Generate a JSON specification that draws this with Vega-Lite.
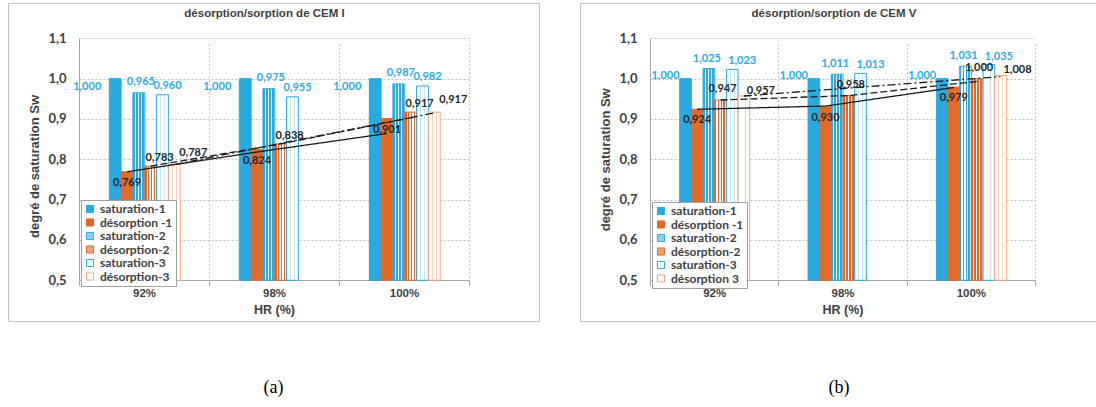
{
  "$schema": "https://vega.github.io/schema/vega-lite/v6.json",
  "padding": {"left": 7, "top": 2, "right": 0, "bottom": 0},
  "autosize": {"type": "pad"},
  "background": "white",
  "config": {
    "locale": {"number": {"decimal": ",", "thousands": " ", "grouping": [3], "currency": ["", ""]}},
    "view": {"stroke": "#C0C0C0", "strokeWidth": 1}
  },
  "datasets": {
    "barsA": [
      {"HR": "92%", "serie": "saturation-1", "val": 1.000},
      {"HR": "92%", "serie": "désorption -1", "val": 0.769},
      {"HR": "92%", "serie": "saturation-2", "val": 0.965},
      {"HR": "92%", "serie": "désorption-2", "val": 0.783},
      {"HR": "92%", "serie": "saturation-3", "val": 0.960},
      {"HR": "92%", "serie": "désorption-3", "val": 0.787},
      {"HR": "98%", "serie": "saturation-1", "val": 1.000},
      {"HR": "98%", "serie": "désorption -1", "val": 0.824},
      {"HR": "98%", "serie": "saturation-2", "val": 0.975},
      {"HR": "98%", "serie": "désorption-2", "val": 0.838},
      {"HR": "98%", "serie": "saturation-3", "val": 0.955},
      {"HR": "100%", "serie": "saturation-1", "val": 1.000},
      {"HR": "100%", "serie": "désorption -1", "val": 0.901},
      {"HR": "100%", "serie": "saturation-2", "val": 0.987},
      {"HR": "100%", "serie": "désorption-2", "val": 0.917},
      {"HR": "100%", "serie": "saturation-3", "val": 0.982},
      {"HR": "100%", "serie": "désorption-3", "val": 0.917}
    ],
    "linesA": [
      {"HR": "92%", "serie": "désorption -1", "val": 0.769},
      {"HR": "98%", "serie": "désorption -1", "val": 0.818},
      {"HR": "100%", "serie": "désorption -1", "val": 0.864},
      {"HR": "92%", "serie": "désorption-2", "val": 0.783},
      {"HR": "98%", "serie": "désorption-2", "val": 0.838},
      {"HR": "100%", "serie": "désorption-2", "val": 0.903},
      {"HR": "92%", "serie": "désorption-3", "val": 0.787},
      {"HR": "100%", "serie": "désorption-3", "val": 0.915}
    ],
    "barsB": [
      {"HR": "92%", "serie": "saturation-1", "val": 1.000},
      {"HR": "92%", "serie": "désorption -1", "val": 0.924},
      {"HR": "92%", "serie": "saturation-2", "val": 1.025},
      {"HR": "92%", "serie": "désorption-2", "val": 0.947},
      {"HR": "92%", "serie": "saturation-3", "val": 1.023},
      {"HR": "92%", "serie": "désorption 3", "val": 0.957},
      {"HR": "98%", "serie": "saturation-1", "val": 1.000},
      {"HR": "98%", "serie": "désorption -1", "val": 0.930},
      {"HR": "98%", "serie": "saturation-2", "val": 1.011},
      {"HR": "98%", "serie": "désorption-2", "val": 0.958},
      {"HR": "98%", "serie": "saturation-3", "val": 1.013},
      {"HR": "100%", "serie": "saturation-1", "val": 1.000},
      {"HR": "100%", "serie": "désorption -1", "val": 0.979},
      {"HR": "100%", "serie": "saturation-2", "val": 1.031},
      {"HR": "100%", "serie": "désorption-2", "val": 1.000},
      {"HR": "100%", "serie": "saturation-3", "val": 1.035},
      {"HR": "100%", "serie": "désorption 3", "val": 1.008}
    ],
    "linesB": [
      {"HR": "92%", "serie": "désorption -1", "val": 0.924},
      {"HR": "98%", "serie": "désorption -1", "val": 0.932},
      {"HR": "100%", "serie": "désorption -1", "val": 0.978},
      {"HR": "92%", "serie": "désorption-2", "val": 0.947},
      {"HR": "98%", "serie": "désorption-2", "val": 0.958},
      {"HR": "100%", "serie": "désorption-2", "val": 0.993},
      {"HR": "92%", "serie": "désorption 3", "val": 0.957},
      {"HR": "100%", "serie": "désorption 3", "val": 1.005}
    ]
  },
  "spacing": 39,
  "resolve": {
    "scale": {"fill": "independent", "stroke": "independent", "strokeDash": "independent", "xOffset": "independent"},
    "legend": {"fill": "independent", "stroke": "independent"}
  },
  "hconcat": [
    {
      "title": {"text": "(a)", "orient": "bottom", "offset": 57, "anchor": "middle", "font": "Liberation Serif", "fontSize": 18, "fontWeight": "normal", "color": "#000000"},
      "vconcat": [
        {
          "width": 531,
          "height": 318,
          "title": {"text": "désorption/sorption de CEM I", "frame": "group", "anchor": "middle", "offset": -16, "baseline": "top", "dx": -9, "font": "Liberation Sans", "fontSize": 11.5, "fontWeight": "bold", "color": "#404040"},
          "data": {"name": "barsA"},
          "encoding": {
            "x": {
              "field": "HR", "type": "nominal", "sort": ["92%", "98%", "100%"],
              "scale": {"domain": ["92%", "98%", "100%"], "range": [71, 461], "paddingInner": 0, "paddingOuter": 0},
              "axis": {"orient": "bottom", "offset": -41, "title": "HR (%)", "tickBand": "extent", "grid": true, "gridDash": [2, 2], "gridColor": "#BFBFBF", "domainColor": "#A6A6A6", "tickColor": "#A6A6A6", "tickSize": 5, "labelAngle": 0, "labelFont": "Liberation Sans", "labelFontWeight": "bold", "labelFontSize": 11.5, "labelColor": "#404040", "labelPadding": 2, "titleFont": "Liberation Sans", "titleFontSize": 12.5, "titleFontWeight": "bold", "titleColor": "#404040", "titlePadding": 5}
            },
            "xOffset": {
              "field": "serie", "type": "nominal",
              "scale": {"domain": ["saturation-1", "désorption -1", "saturation-2", "désorption-2", "saturation-3", "désorption-3"], "range": [30.3, 101.2], "paddingInner": 0, "paddingOuter": 0}
            },
            "y": {
              "field": "val", "type": "quantitative",
              "scale": {"domain": [0.5, 1.1], "range": [277.3, 35.3], "zero": false, "nice": false},
              "axis": {"orient": "left", "offset": -71, "title": "degré de saturation Sw", "titleY": 163, "values": [0.5, 0.6, 0.7, 0.8, 0.9, 1.0, 1.1], "format": ".1f", "ticks": false, "grid": true, "gridDash": [2, 2], "gridColor": "#BFBFBF", "domainColor": "#A6A6A6", "labelFont": "Lato", "labelFontWeight": "bold", "labelFontSize": 13, "labelColor": "#404040", "labelPadding": 13, "titleFont": "Liberation Sans", "titleFontSize": 13, "titleFontWeight": "bold", "titleColor": "#404040", "titlePadding": 6}
            }
          },
          "layer": [
            {
              "mark": {"type": "bar", "strokeWidth": 1},
              "encoding": {
                "y2": {"datum": 0.5},
                "fill": {
                  "field": "serie", "type": "nominal",
                  "condition": [
                    {"test": "datum.serie === 'saturation-2'", "value": {"gradient": "linear", "x1": 0, "y1": 0, "x2": 1, "y2": 0, "stops": [{"offset": 0, "color": "#29ABE2"}, {"offset": 0.15, "color": "#29ABE2"}, {"offset": 0.15, "color": "#ffffff"}, {"offset": 0.25, "color": "#ffffff"}, {"offset": 0.25, "color": "#29ABE2"}, {"offset": 0.4, "color": "#29ABE2"}, {"offset": 0.4, "color": "#ffffff"}, {"offset": 0.5, "color": "#ffffff"}, {"offset": 0.5, "color": "#29ABE2"}, {"offset": 0.65, "color": "#29ABE2"}, {"offset": 0.65, "color": "#ffffff"}, {"offset": 0.75, "color": "#ffffff"}, {"offset": 0.75, "color": "#29ABE2"}, {"offset": 0.9, "color": "#29ABE2"}, {"offset": 0.9, "color": "#ffffff"}, {"offset": 1, "color": "#ffffff"}]}},
                    {"test": "datum.serie === 'désorption-2'", "value": {"gradient": "linear", "x1": 0, "y1": 0, "x2": 1, "y2": 0, "stops": [{"offset": 0, "color": "#E2692A"}, {"offset": 0.15, "color": "#E2692A"}, {"offset": 0.15, "color": "#ffffff"}, {"offset": 0.25, "color": "#ffffff"}, {"offset": 0.25, "color": "#E2692A"}, {"offset": 0.4, "color": "#E2692A"}, {"offset": 0.4, "color": "#ffffff"}, {"offset": 0.5, "color": "#ffffff"}, {"offset": 0.5, "color": "#E2692A"}, {"offset": 0.65, "color": "#E2692A"}, {"offset": 0.65, "color": "#ffffff"}, {"offset": 0.75, "color": "#ffffff"}, {"offset": 0.75, "color": "#E2692A"}, {"offset": 0.9, "color": "#E2692A"}, {"offset": 0.9, "color": "#ffffff"}, {"offset": 1, "color": "#ffffff"}]}},
                    {"test": "datum.serie === 'saturation-3'", "value": {"gradient": "linear", "x1": 0, "y1": 0, "x2": 1, "y2": 0, "stops": [{"offset": 0, "color": "#ffffff"}, {"offset": 0.3, "color": "#ffffff"}, {"offset": 0.3, "color": "#C6E8F7"}, {"offset": 0.38, "color": "#C6E8F7"}, {"offset": 0.38, "color": "#ffffff"}, {"offset": 0.62, "color": "#ffffff"}, {"offset": 0.62, "color": "#C6E8F7"}, {"offset": 0.7, "color": "#C6E8F7"}, {"offset": 0.7, "color": "#ffffff"}, {"offset": 1, "color": "#ffffff"}]}},
                    {"test": "datum.serie === 'désorption-3'", "value": {"gradient": "linear", "x1": 0, "y1": 0, "x2": 1, "y2": 0, "stops": [{"offset": 0, "color": "#ffffff"}, {"offset": 0.3, "color": "#ffffff"}, {"offset": 0.3, "color": "#F8D3BF"}, {"offset": 0.38, "color": "#F8D3BF"}, {"offset": 0.38, "color": "#ffffff"}, {"offset": 0.62, "color": "#ffffff"}, {"offset": 0.62, "color": "#F8D3BF"}, {"offset": 0.7, "color": "#F8D3BF"}, {"offset": 0.7, "color": "#ffffff"}, {"offset": 1, "color": "#ffffff"}]}}
                  ],
                  "scale": {
                    "domain": ["saturation-1", "désorption -1", "saturation-2", "désorption-2", "saturation-3", "désorption-3"],
                    "range": ["#29ABE2", "#E2692A", "#8ACFEE", "#EDA27A", "#ffffff", "#ffffff"]
                  },
                  "legend": {"title": null, "orient": "none", "legendX": 73, "legendY": 197, "fillColor": "#ffffff", "strokeColor": "#A0A0A0", "padding": 3, "rowPadding": 1.5, "symbolType": "square", "symbolSize": 50, "symbolStrokeWidth": 1, "labelFont": "Lato", "labelFontSize": 12, "labelFontWeight": "bold", "labelColor": "#404040", "labelOffset": 4}
                },
                "stroke": {
                  "field": "serie", "type": "nominal",
                  "scale": {
                    "domain": ["saturation-1", "désorption -1", "saturation-2", "désorption-2", "saturation-3", "désorption-3"],
                    "range": ["#29ABE2", "#E2692A", "#29ABE2", "#E2692A", "#29ABE2", "#F4A57D"]
                  },
                  "legend": {"title": null, "orient": "none", "legendX": 73, "legendY": 197, "fillColor": "#ffffff", "strokeColor": "#A0A0A0", "padding": 3, "rowPadding": 1.5, "symbolType": "square", "symbolSize": 50, "symbolStrokeWidth": 1, "labelFont": "Lato", "labelFontSize": 12, "labelFontWeight": "bold", "labelColor": "#404040", "labelOffset": 4}
                }
              }
            },
            {
              "data": {"name": "linesA"},
              "mark": {"type": "line", "color": "#1A1A1A", "strokeWidth": 1.3},
              "encoding": {
                "strokeDash": {"field": "serie", "type": "nominal", "scale": {"domain": ["désorption -1", "désorption-2", "désorption-3"], "range": [[1, 0], [7, 3], [8, 3, 2, 3]]}, "legend": null}
              }
            },
            {
              "transform": [{"filter": {"field": "serie", "equal": "saturation-1"}}],
              "mark": {"type": "text", "dx": -28, "dy": 8, "font": "Lato", "fontSize": 11, "fontWeight": "bold", "color": "#29ABE2"},
              "encoding": {"text": {"field": "val", "type": "quantitative", "format": ".3f"}}
            },
            {
              "transform": [{"filter": {"field": "serie", "equal": "saturation-2"}}],
              "mark": {"type": "text", "dx": 2, "dy": -11, "font": "Lato", "fontSize": 11, "fontWeight": "bold", "color": "#29ABE2"},
              "encoding": {"text": {"field": "val", "type": "quantitative", "format": ".3f"}}
            },
            {
              "transform": [{"filter": {"field": "serie", "equal": "saturation-3"}}],
              "mark": {"type": "text", "dx": 5, "dy": -9, "font": "Lato", "fontSize": 11, "fontWeight": "bold", "color": "#29ABE2"},
              "encoding": {"text": {"field": "val", "type": "quantitative", "format": ".3f"}}
            },
            {
              "transform": [{"filter": {"field": "serie", "equal": "désorption -1"}}],
              "mark": {"type": "text", "dx": 0, "dy": 11, "font": "Lato", "fontSize": 11, "fontWeight": "bold", "color": "#262626"},
              "encoding": {"text": {"field": "val", "type": "quantitative", "format": ".3f"}}
            },
            {
              "transform": [{"filter": {"field": "serie", "equal": "désorption-2"}}],
              "mark": {"type": "text", "dx": 9, "dy": -8, "font": "Lato", "fontSize": 11, "fontWeight": "bold", "color": "#262626"},
              "encoding": {"text": {"field": "val", "type": "quantitative", "format": ".3f"}}
            },
            {
              "transform": [{"filter": {"field": "serie", "equal": "désorption-3"}}],
              "mark": {"type": "text", "dx": 19, "dy": -12, "font": "Lato", "fontSize": 11, "fontWeight": "bold", "color": "#262626"},
              "encoding": {"text": {"field": "val", "type": "quantitative", "format": ".3f"}}
            }
          ]
        }
      ]
    },
    {
      "title": {"text": "(b)", "orient": "bottom", "offset": 57, "anchor": "middle", "font": "Liberation Serif", "fontSize": 18, "fontWeight": "normal", "color": "#000000"},
      "vconcat": [
        {
          "width": 518,
          "height": 318,
          "title": {"text": "désorption/sorption de CEM V", "frame": "group", "anchor": "middle", "offset": -16, "baseline": "top", "dx": -5, "font": "Liberation Sans", "fontSize": 11.5, "fontWeight": "bold", "color": "#404040"},
          "data": {"name": "barsB"},
          "encoding": {
            "x": {
              "field": "HR", "type": "nominal", "sort": ["92%", "98%", "100%"],
              "scale": {"domain": ["92%", "98%", "100%"], "range": [70, 455], "paddingInner": 0, "paddingOuter": 0},
              "axis": {"orient": "bottom", "offset": -41, "title": "HR (%)", "tickBand": "extent", "grid": true, "gridDash": [2, 2], "gridColor": "#BFBFBF", "domainColor": "#A6A6A6", "tickColor": "#A6A6A6", "tickSize": 5, "labelAngle": 0, "labelFont": "Liberation Sans", "labelFontWeight": "bold", "labelFontSize": 11.5, "labelColor": "#404040", "labelPadding": 2, "titleFont": "Liberation Sans", "titleFontSize": 12.5, "titleFontWeight": "bold", "titleColor": "#404040", "titlePadding": 5}
            },
            "xOffset": {
              "field": "serie", "type": "nominal",
              "scale": {"domain": ["saturation-1", "désorption -1", "saturation-2", "désorption-2", "saturation-3", "désorption 3"], "range": [29.7, 99.7], "paddingInner": 0, "paddingOuter": 0}
            },
            "y": {
              "field": "val", "type": "quantitative",
              "scale": {"domain": [0.5, 1.1], "range": [277.3, 35.3], "zero": false, "nice": false},
              "axis": {"orient": "left", "offset": -70, "title": "degré de saturation Sw", "values": [0.5, 0.6, 0.7, 0.8, 0.9, 1.0, 1.1], "format": ".1f", "ticks": false, "grid": true, "gridDash": [2, 2], "gridColor": "#BFBFBF", "domainColor": "#A6A6A6", "labelFont": "Lato", "labelFontWeight": "bold", "labelFontSize": 13, "labelColor": "#404040", "labelPadding": 13, "titleFont": "Liberation Sans", "titleFontSize": 13, "titleFontWeight": "bold", "titleColor": "#404040", "titlePadding": 6}
            }
          },
          "layer": [
            {
              "mark": {"type": "bar", "strokeWidth": 1},
              "encoding": {
                "y2": {"datum": 0.5},
                "fill": {
                  "field": "serie", "type": "nominal",
                  "condition": [
                    {"test": "datum.serie === 'saturation-2'", "value": {"gradient": "linear", "x1": 0, "y1": 0, "x2": 1, "y2": 0, "stops": [{"offset": 0, "color": "#29ABE2"}, {"offset": 0.15, "color": "#29ABE2"}, {"offset": 0.15, "color": "#ffffff"}, {"offset": 0.25, "color": "#ffffff"}, {"offset": 0.25, "color": "#29ABE2"}, {"offset": 0.4, "color": "#29ABE2"}, {"offset": 0.4, "color": "#ffffff"}, {"offset": 0.5, "color": "#ffffff"}, {"offset": 0.5, "color": "#29ABE2"}, {"offset": 0.65, "color": "#29ABE2"}, {"offset": 0.65, "color": "#ffffff"}, {"offset": 0.75, "color": "#ffffff"}, {"offset": 0.75, "color": "#29ABE2"}, {"offset": 0.9, "color": "#29ABE2"}, {"offset": 0.9, "color": "#ffffff"}, {"offset": 1, "color": "#ffffff"}]}},
                    {"test": "datum.serie === 'désorption-2'", "value": {"gradient": "linear", "x1": 0, "y1": 0, "x2": 1, "y2": 0, "stops": [{"offset": 0, "color": "#E2692A"}, {"offset": 0.15, "color": "#E2692A"}, {"offset": 0.15, "color": "#ffffff"}, {"offset": 0.25, "color": "#ffffff"}, {"offset": 0.25, "color": "#E2692A"}, {"offset": 0.4, "color": "#E2692A"}, {"offset": 0.4, "color": "#ffffff"}, {"offset": 0.5, "color": "#ffffff"}, {"offset": 0.5, "color": "#E2692A"}, {"offset": 0.65, "color": "#E2692A"}, {"offset": 0.65, "color": "#ffffff"}, {"offset": 0.75, "color": "#ffffff"}, {"offset": 0.75, "color": "#E2692A"}, {"offset": 0.9, "color": "#E2692A"}, {"offset": 0.9, "color": "#ffffff"}, {"offset": 1, "color": "#ffffff"}]}},
                    {"test": "datum.serie === 'saturation-3'", "value": {"gradient": "linear", "x1": 0, "y1": 0, "x2": 1, "y2": 0, "stops": [{"offset": 0, "color": "#ffffff"}, {"offset": 0.3, "color": "#ffffff"}, {"offset": 0.3, "color": "#C6E8F7"}, {"offset": 0.38, "color": "#C6E8F7"}, {"offset": 0.38, "color": "#ffffff"}, {"offset": 0.62, "color": "#ffffff"}, {"offset": 0.62, "color": "#C6E8F7"}, {"offset": 0.7, "color": "#C6E8F7"}, {"offset": 0.7, "color": "#ffffff"}, {"offset": 1, "color": "#ffffff"}]}},
                    {"test": "datum.serie === 'désorption 3'", "value": {"gradient": "linear", "x1": 0, "y1": 0, "x2": 1, "y2": 0, "stops": [{"offset": 0, "color": "#ffffff"}, {"offset": 0.3, "color": "#ffffff"}, {"offset": 0.3, "color": "#F8D3BF"}, {"offset": 0.38, "color": "#F8D3BF"}, {"offset": 0.38, "color": "#ffffff"}, {"offset": 0.62, "color": "#ffffff"}, {"offset": 0.62, "color": "#F8D3BF"}, {"offset": 0.7, "color": "#F8D3BF"}, {"offset": 0.7, "color": "#ffffff"}, {"offset": 1, "color": "#ffffff"}]}}
                  ],
                  "scale": {
                    "domain": ["saturation-1", "désorption -1", "saturation-2", "désorption-2", "saturation-3", "désorption 3"],
                    "range": ["#29ABE2", "#E2692A", "#8ACFEE", "#EDA27A", "#ffffff", "#ffffff"]
                  },
                  "legend": {"title": null, "orient": "none", "legendX": 72, "legendY": 199, "fillColor": "#ffffff", "strokeColor": "#A0A0A0", "padding": 3, "rowPadding": 1.5, "symbolType": "square", "symbolSize": 50, "symbolStrokeWidth": 1, "labelFont": "Lato", "labelFontSize": 12, "labelFontWeight": "bold", "labelColor": "#404040", "labelOffset": 4}
                },
                "stroke": {
                  "field": "serie", "type": "nominal",
                  "scale": {
                    "domain": ["saturation-1", "désorption -1", "saturation-2", "désorption-2", "saturation-3", "désorption 3"],
                    "range": ["#29ABE2", "#E2692A", "#29ABE2", "#E2692A", "#29ABE2", "#F4A57D"]
                  },
                  "legend": {"title": null, "orient": "none", "legendX": 72, "legendY": 199, "fillColor": "#ffffff", "strokeColor": "#A0A0A0", "padding": 3, "rowPadding": 1.5, "symbolType": "square", "symbolSize": 50, "symbolStrokeWidth": 1, "labelFont": "Lato", "labelFontSize": 12, "labelFontWeight": "bold", "labelColor": "#404040", "labelOffset": 4}
                }
              }
            },
            {
              "data": {"name": "linesB"},
              "mark": {"type": "line", "color": "#1A1A1A", "strokeWidth": 1.3},
              "encoding": {
                "strokeDash": {"field": "serie", "type": "nominal", "scale": {"domain": ["désorption -1", "désorption-2", "désorption 3"], "range": [[1, 0], [7, 3], [8, 3, 2, 3]]}, "legend": null}
              }
            },
            {
              "transform": [{"filter": {"field": "serie", "equal": "saturation-1"}}],
              "mark": {"type": "text", "dx": -20, "dy": -3, "font": "Lato", "fontSize": 11, "fontWeight": "bold", "color": "#29ABE2"},
              "encoding": {"text": {"field": "val", "type": "quantitative", "format": ".3f"}}
            },
            {
              "transform": [{"filter": {"field": "serie", "equal": "saturation-2"}}],
              "mark": {"type": "text", "dx": -2, "dy": -10, "font": "Lato", "fontSize": 11, "fontWeight": "bold", "color": "#29ABE2"},
              "encoding": {"text": {"field": "val", "type": "quantitative", "format": ".3f"}}
            },
            {
              "transform": [{"filter": {"field": "serie", "equal": "saturation-3"}}],
              "mark": {"type": "text", "dx": 10, "dy": -8, "font": "Lato", "fontSize": 11, "fontWeight": "bold", "color": "#29ABE2"},
              "encoding": {"text": {"field": "val", "type": "quantitative", "format": ".3f"}}
            },
            {
              "transform": [{"filter": {"field": "serie", "equal": "désorption -1"}}],
              "mark": {"type": "text", "dx": 0, "dy": 11, "font": "Lato", "fontSize": 11, "fontWeight": "bold", "color": "#262626"},
              "encoding": {"text": {"field": "val", "type": "quantitative", "format": ".3f"}}
            },
            {
              "transform": [{"filter": {"field": "serie", "equal": "désorption-2"}}],
              "mark": {"type": "text", "dx": 2, "dy": -11, "font": "Lato", "fontSize": 11, "fontWeight": "bold", "color": "#262626"},
              "encoding": {"text": {"field": "val", "type": "quantitative", "format": ".3f"}}
            },
            {
              "transform": [{"filter": {"field": "serie", "equal": "désorption 3"}}],
              "mark": {"type": "text", "dx": 17, "dy": -5, "font": "Lato", "fontSize": 11, "fontWeight": "bold", "color": "#262626"},
              "encoding": {"text": {"field": "val", "type": "quantitative", "format": ".3f"}}
            }
          ]
        }
      ]
    }
  ]
}
